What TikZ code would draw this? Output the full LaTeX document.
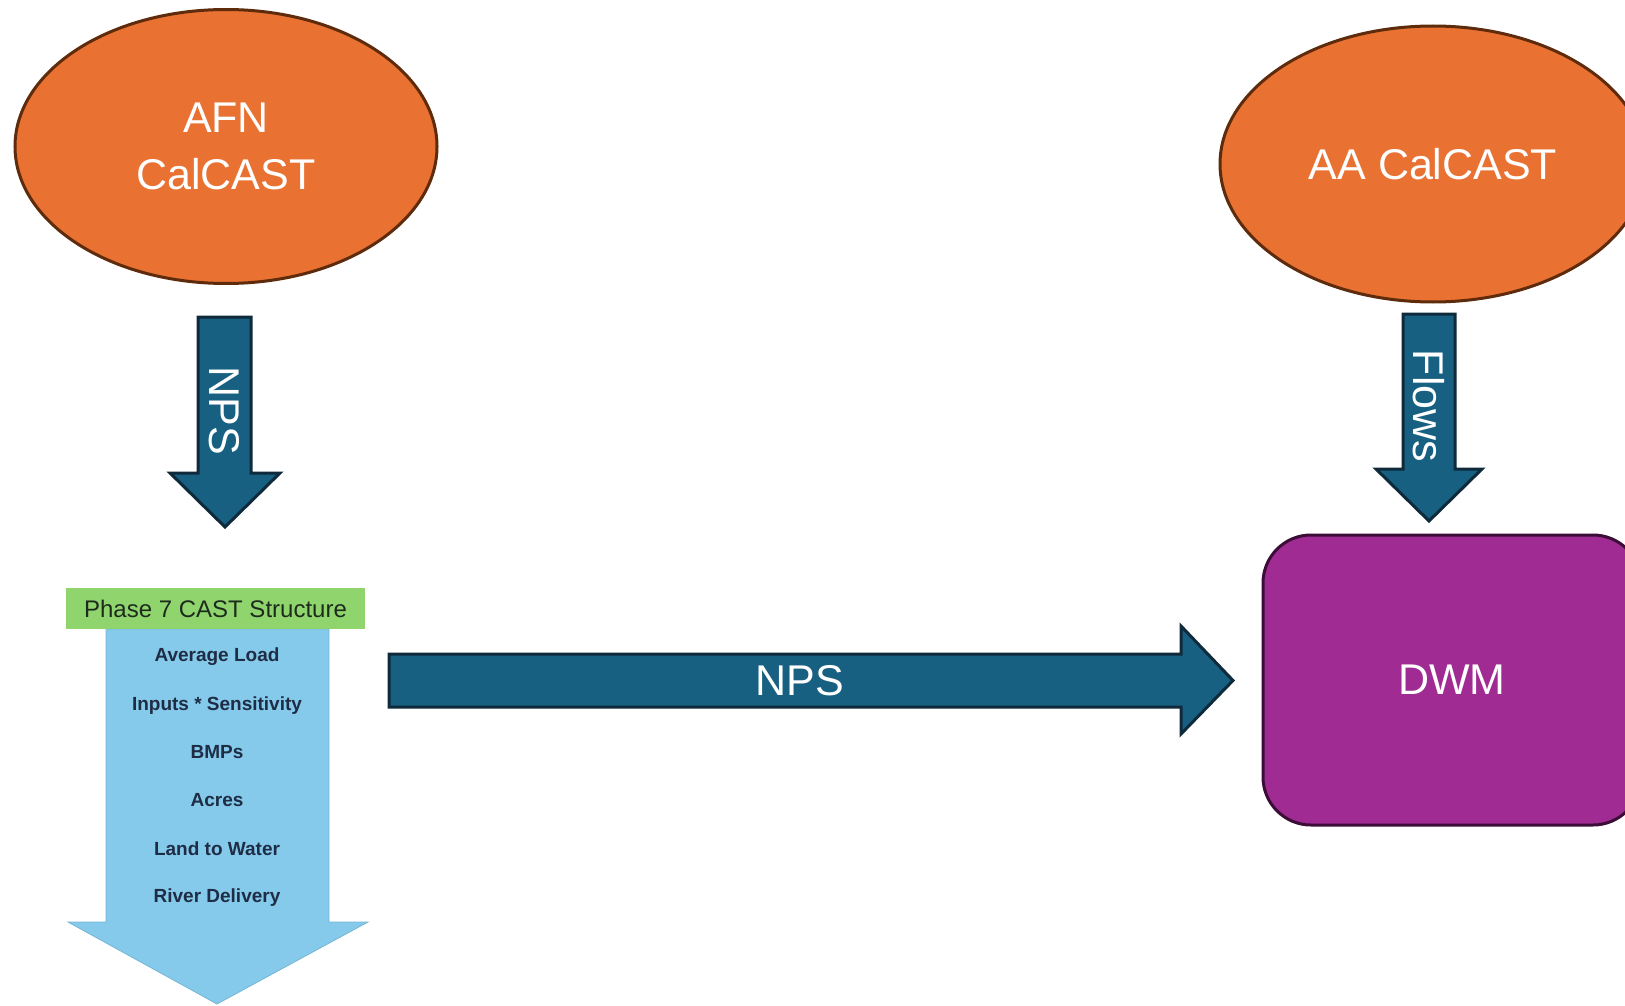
\documentclass[tikz,border=0pt]{standalone}
\usepackage{fontspec}
\setmainfont{Liberation Sans}
\usetikzlibrary{shapes.geometric}
\definecolor{orangeF}{HTML}{E97132}
\definecolor{orangeD}{HTML}{5E2C0C}
\definecolor{tealF}{HTML}{186082}
\definecolor{tealD}{HTML}{0E2A3B}
\definecolor{purpF}{HTML}{A02B93}
\definecolor{purpD}{HTML}{3C0E37}
\definecolor{skyF}{HTML}{85CAEA}
\definecolor{skyD}{HTML}{74B6D6}
\definecolor{greenF}{HTML}{90D46E}
\definecolor{txtDark}{HTML}{1E2D45}
\definecolor{txtGreen}{HTML}{1D2B1C}
\begin{document}
\begin{tikzpicture}[x=1pt,y=-1pt,
  oval/.style={ellipse, fill=orangeF, draw=orangeD, line width=3pt, text=white,
    align=center, font=\fontsize{43}{57}\selectfont, inner sep=0pt},
  blockarrow/.style={fill=tealF, draw=tealD, line width=3pt, line join=miter},
  whitelabel/.style={text=white, font=\fontsize{43}{57}\selectfont, inner sep=0pt},
  steplabel/.style={text=txtDark, font=\bfseries\fontsize{19}{22}\selectfont, inner sep=0pt, anchor=base},
  dwmbox/.style={rectangle, rounded corners=48pt, fill=purpF, draw=purpD, line width=3pt,
    text=white, font=\fontsize{43}{57}\selectfont, minimum width=378pt, minimum height=290pt}
]
\useasboundingbox (0,0) rectangle (1625,1006);
\clip (0,0) rectangle (1625,1006);

% ellipses
\node[oval, minimum width=422pt, minimum height=274pt] (afn) at (226,146.5) {AFN\\CalCAST};
\node[oval, minimum width=426pt, minimum height=276pt] (aa) at (1433,164) {AA CalCAST};

% CAST structure arrow
\filldraw[fill=skyF, draw=skyD, line width=0.8pt, line join=miter]
  (106,629) -- (329,629) -- (329,922) -- (368,922) -- (217,1004) -- (68,922) -- (106,922) -- cycle;
\node[fill=greenF, minimum width=299pt, minimum height=41pt, inner sep=0pt,
  text=txtGreen, font=\fontsize{24}{28}\selectfont] (phase) at (215.5,608.5) {Phase 7 CAST Structure};
\node[steplabel] (s1) at (217,661) {Average Load};
\node[steplabel] (s2) at (217,710) {Inputs * Sensitivity};
\node[steplabel] (s3) at (217,758) {BMPs};
\node[steplabel] (s4) at (217,806) {Acres};
\node[steplabel] (s5) at (217,855) {Land to Water};
\node[steplabel] (s6) at (217,902) {River Delivery};

% DWM box
\node[dwmbox] (dwm) at (1452,680) {DWM};

% down arrow NPS
\path[blockarrow] (198,317) -- (251,317) -- (251,473) -- (280,473) -- (225,527) -- (170,473) -- (198,473) -- cycle;
\node[whitelabel, rotate=-90] (npsdown) at (224,411) {NPS};

% down arrow Flows
\path[blockarrow] (1403,314) -- (1455,314) -- (1455,469) -- (1482,469) -- (1429,521) -- (1376,469) -- (1403,469) -- cycle;
\node[whitelabel, rotate=-90] (flows) at (1429,406) {Flows};

% horizontal arrow NPS
\path[blockarrow] (389,654) -- (1181,654) -- (1181,626) -- (1233,680.5) -- (1181,734) -- (1181,707) -- (389,707) -- cycle;
\node[whitelabel] (npsright) at (800,680.5) {NPS};
\end{tikzpicture}
\end{document}
